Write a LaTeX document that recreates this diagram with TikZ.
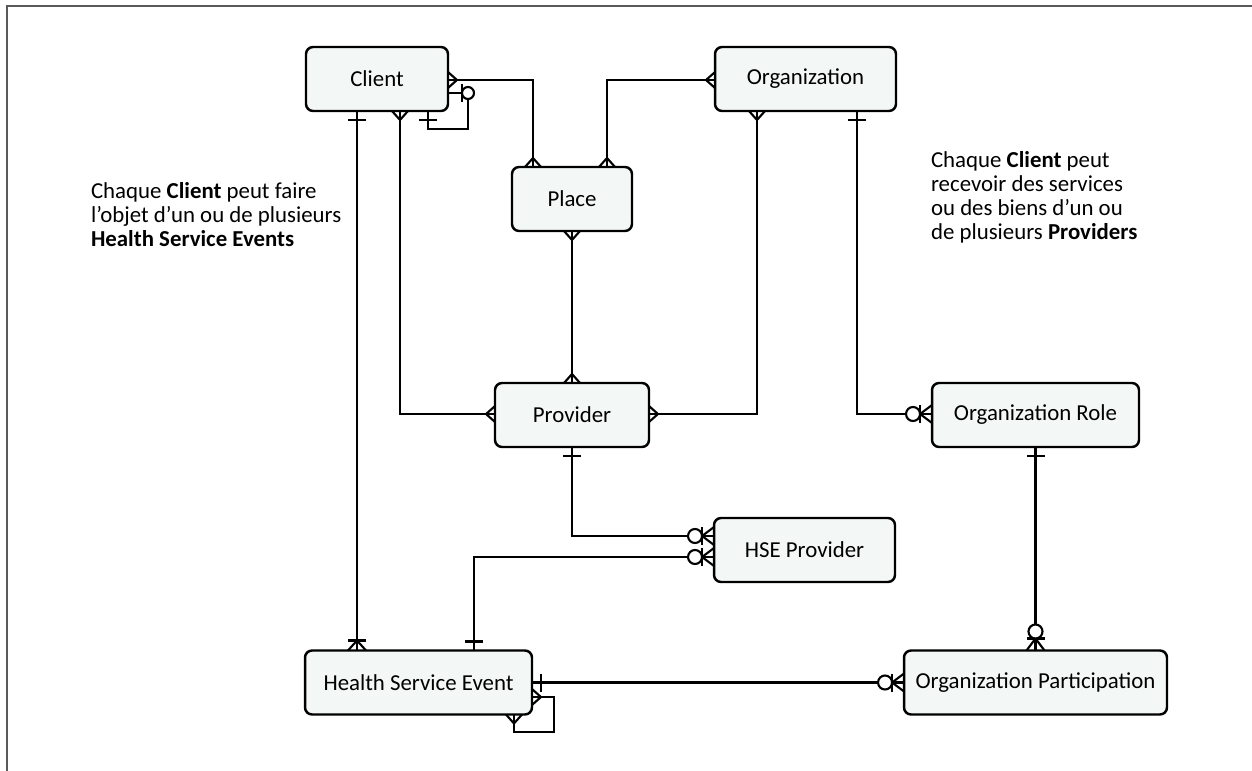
\documentclass[tikz,border=0pt]{standalone}
\usepackage{fontspec}
\setmainfont{Carlito}
\usetikzlibrary{calc}
\definecolor{boxfill}{RGB}{243,248,246}
\definecolor{framegray}{RGB}{90,90,90}

\begin{document}
\begin{tikzpicture}[x=0.02cm, y=-0.02cm, line width=1.2pt]

\tikzset{
    entity/.style args={#1and#2}{
        draw,
        rounded corners=4pt,
        fill=boxfill,
        line width=1.4pt,
        minimum width=#1,
        minimum height=#2,
        outer sep=0pt,
        font=\fontsize{13}{14}\selectfont,
    },
    note/.style={
        align=left,
        anchor=west,
        inner sep=0pt,
        font=\fontsize{13}{13.66}\selectfont,
    },
    crow/.pic={
        \draw (0,-8) -- (9,0) -- (0,8);
    },
    one/.pic={
        \draw (9,-9) -- (9,9);
    },
    onemany/.pic={
        \draw (0,-9) -- (10,0) -- (0,9);
        \draw (10,-9) -- (10,9);
    },
    zone/.pic={
        \draw (14,-9) -- (14,9);
        \draw[fill=white] (20,0) circle (6);
    },
    zmany/.pic={
        \draw (0,-9) -- (12,0) -- (0,9);
        \draw (12,-9) -- (12,9);
        \draw[fill=white] (19,0) circle (7);
    }
}

\useasboundingbox (0,0) rectangle (1252,771);
\draw[framegray, line width=1.2pt] (7,771) -- (7,6) -- (1252,6);

\node(client) [entity=2.84cm and 1.28cm] at (377,79) {Client};
\node(organization) [entity=3.62cm and 1.28cm] at (805.5,79) {Organization};
\node(place) [entity=2.4cm and 1.28cm] at (572,199) {Place};
\node(provider) [entity=3.08cm and 1.28cm] at (572,415) {Provider};
\node(orgrole) [entity=4.14cm and 1.28cm] at (1035.5,415) {Organization Role};
\node(hseprovider) [entity=3.62cm and 1.28cm] at (804.5,550) {HSE Provider};
\node(hse) [entity=4.54cm and 1.28cm] at (418.5,682.5) {Health Service Event};
\node(orgpart) [entity=5.26cm and 1.28cm] at (1035.5,682.5) {Organization Participation};

\node(noteleft) [note] at (90,215) {Chaque \textbf{Client} peut faire\\l’objet d’un ou de plusieurs\\\textbf{Health Service Events}};
\node(noteright) [note] at (930,197) {Chaque \textbf{Client} peut\\recevoir des services\\ou des biens d’un ou\\de plusieurs \textbf{Providers}};

% relationships
\draw ($(client.east)+(0,1)$) -| ($(place.north)+(-39,0)$);
\draw ($(organization.west)+(0,1)$) -| ($(place.north)+(35,0)$);
\draw ($(client.east)+(0,14)$) -- ++(20,0) -- ++(0,36) -| ($(client.south)+(51,0)$);
\draw ($(client.south)+(23,0)$) |- ($(provider.west)+(0,-1)$);
\draw ($(client.south)+(-20,0)$) -- ($(hse.north)+(-61.5,0)$);
\draw (place.south) -- (provider.north);
\draw ($(organization.south)+(-48.5,0)$) |- ($(provider.east)+(0,-1)$);
\draw ($(organization.south)+(51.5,0)$) |- ($(orgrole.west)+(0,-1)$);
\draw (provider.south) |- ($(hseprovider.west)+(0,-14)$);
\draw ($(hseprovider.west)+(0,7)$) -| ($(hse.north)+(55.5,0)$);
\draw (orgrole.south) -- (orgpart.north);
\draw (hse.east) -- (orgpart.west);
\draw ($(hse.east)+(0,14.5)$) -- ++(22,0) -- ++(0,35) -| ($(hse.south)+(95.5,0)$);

% cardinalities
\pic at ($(client.east)+(0,1)$) {crow};
\pic[rotate=90] at ($(place.north)+(-39,0)$) {crow};
\pic[rotate=180] at ($(organization.west)+(0,1)$) {crow};
\pic[rotate=90] at ($(place.north)+(35,0)$) {crow};
\pic at ($(client.east)+(0,14)$) {zone};
\pic[rotate=-90] at ($(client.south)+(51,0)$) {one};
\pic[rotate=-90] at ($(client.south)+(23,0)$) {crow};
\pic[rotate=180] at ($(provider.west)+(0,-1)$) {crow};
\pic[rotate=-90] at ($(client.south)+(-20,0)$) {one};
\pic[rotate=90] at ($(hse.north)+(-61.5,0)$) {onemany};
\pic[rotate=-90] at (place.south) {crow};
\pic[rotate=90] at (provider.north) {crow};
\pic[rotate=-90] at ($(organization.south)+(-48.5,0)$) {crow};
\pic at ($(provider.east)+(0,-1)$) {crow};
\pic[rotate=-90] at ($(organization.south)+(51.5,0)$) {one};
\pic[rotate=180] at ($(orgrole.west)+(0,-1)$) {zmany};
\pic[rotate=-90] at (provider.south) {one};
\pic[rotate=180] at ($(hseprovider.west)+(0,-14)$) {zmany};
\pic[rotate=180] at ($(hseprovider.west)+(0,7)$) {zmany};
\pic[rotate=90] at ($(hse.north)+(55.5,0)$) {one};
\pic[rotate=-90] at (orgrole.south) {one};
\pic[rotate=90] at (orgpart.north) {zmany};
\pic at (hse.east) {one};
\pic[rotate=180] at (orgpart.west) {zmany};
\pic at ($(hse.east)+(0,14.5)$) {crow};
\pic[rotate=-90] at ($(hse.south)+(95.5,0)$) {crow};

\end{tikzpicture}
\end{document}
